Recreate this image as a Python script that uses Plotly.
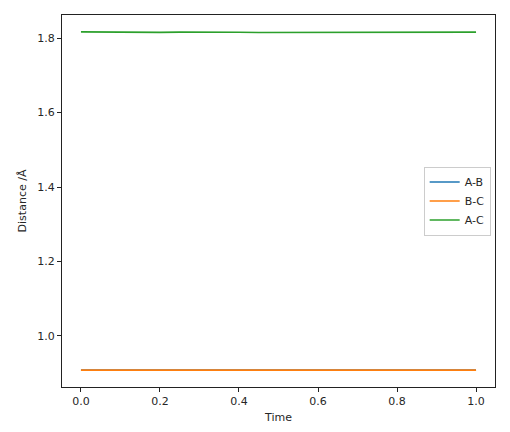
import plotly.graph_objects as go

time = [0.0, 0.05, 0.1, 0.15, 0.2, 0.25, 0.3, 0.35, 0.4, 0.45, 0.5,
        0.55, 0.6, 0.65, 0.7, 0.75, 0.8, 0.85, 0.9, 0.95, 1.0]
ab = [0.9085, 0.9084, 0.9082, 0.9081, 0.9082, 0.9084, 0.9085, 0.9084, 0.9082, 0.9081, 0.9082,
      0.9084, 0.9085, 0.9084, 0.9082, 0.9081, 0.9082, 0.9084, 0.9085, 0.9084, 0.9083]
bc = [0.9085, 0.9084, 0.9082, 0.9081, 0.9082, 0.9084, 0.9085, 0.9084, 0.9082, 0.9081, 0.9082,
      0.9084, 0.9085, 0.9084, 0.9082, 0.9081, 0.9082, 0.9084, 0.9085, 0.9084, 0.9083]
ac = [1.8165, 1.8160, 1.8153, 1.8149, 1.8152, 1.8159, 1.8164, 1.8163, 1.8157, 1.8150, 1.8151,
      1.8157, 1.8163, 1.8164, 1.8158, 1.8151, 1.8149, 1.8154, 1.8161, 1.8165, 1.8162]

names = ["A-B", "B-C", "A-C"]
colors = ["#1f77b4", "#ff7f0e", "#2ca02c"]
series = [ab, bc, ac]

fig = go.Figure()
for n, c, s in zip(names, colors, series):
    fig.add_trace(go.Scatter(x=time, y=s, mode="lines", name=n,
                             line=dict(color=c, width=1.7)))

axis_common = dict(showline=True, linecolor="#222", linewidth=1, mirror=True,
                   ticks="outside", ticklen=4, tickcolor="#222", showgrid=False,
                   zeroline=False, automargin=False,
                   tickfont=dict(family="DejaVu Sans", size=11, color="#262626"),
                   title_font=dict(family="DejaVu Sans", size=11, color="#262626"))

fig.update_xaxes(range=[-0.048, 1.048], tickvals=[0, 0.2, 0.4, 0.6, 0.8, 1.0],
                 ticktext=["0.0", "0.2", "0.4", "0.6", "0.8", "1.0"],
                 title_text="Time", title_standoff=6, **axis_common)
fig.update_yaxes(range=[0.863, 1.862], tickvals=[1.0, 1.2, 1.4, 1.6, 1.8],
                 ticktext=["1.0", "1.2", "1.4", "1.6", "1.8"],
                 title_text="Distance /Å", title_standoff=8, **axis_common)

# page body has an 8px default margin, so the figure is 8px smaller and offset
fig.update_layout(
    width=502, height=424,
    margin=dict(l=54, r=15, t=7, b=45, autoexpand=False),
    plot_bgcolor="white", paper_bgcolor="white",
    font=dict(family="DejaVu Sans", size=11, color="#262626"),
    legend=dict(x=0.99, xanchor="right", y=0.5, yanchor="middle",
                bgcolor="rgba(255,255,255,0.8)", bordercolor="#cccccc", borderwidth=1,
                font=dict(family="DejaVu Sans", size=11, color="#262626"),
                itemwidth=30, tracegroupgap=0),
)

fig.write_html("out.html")
